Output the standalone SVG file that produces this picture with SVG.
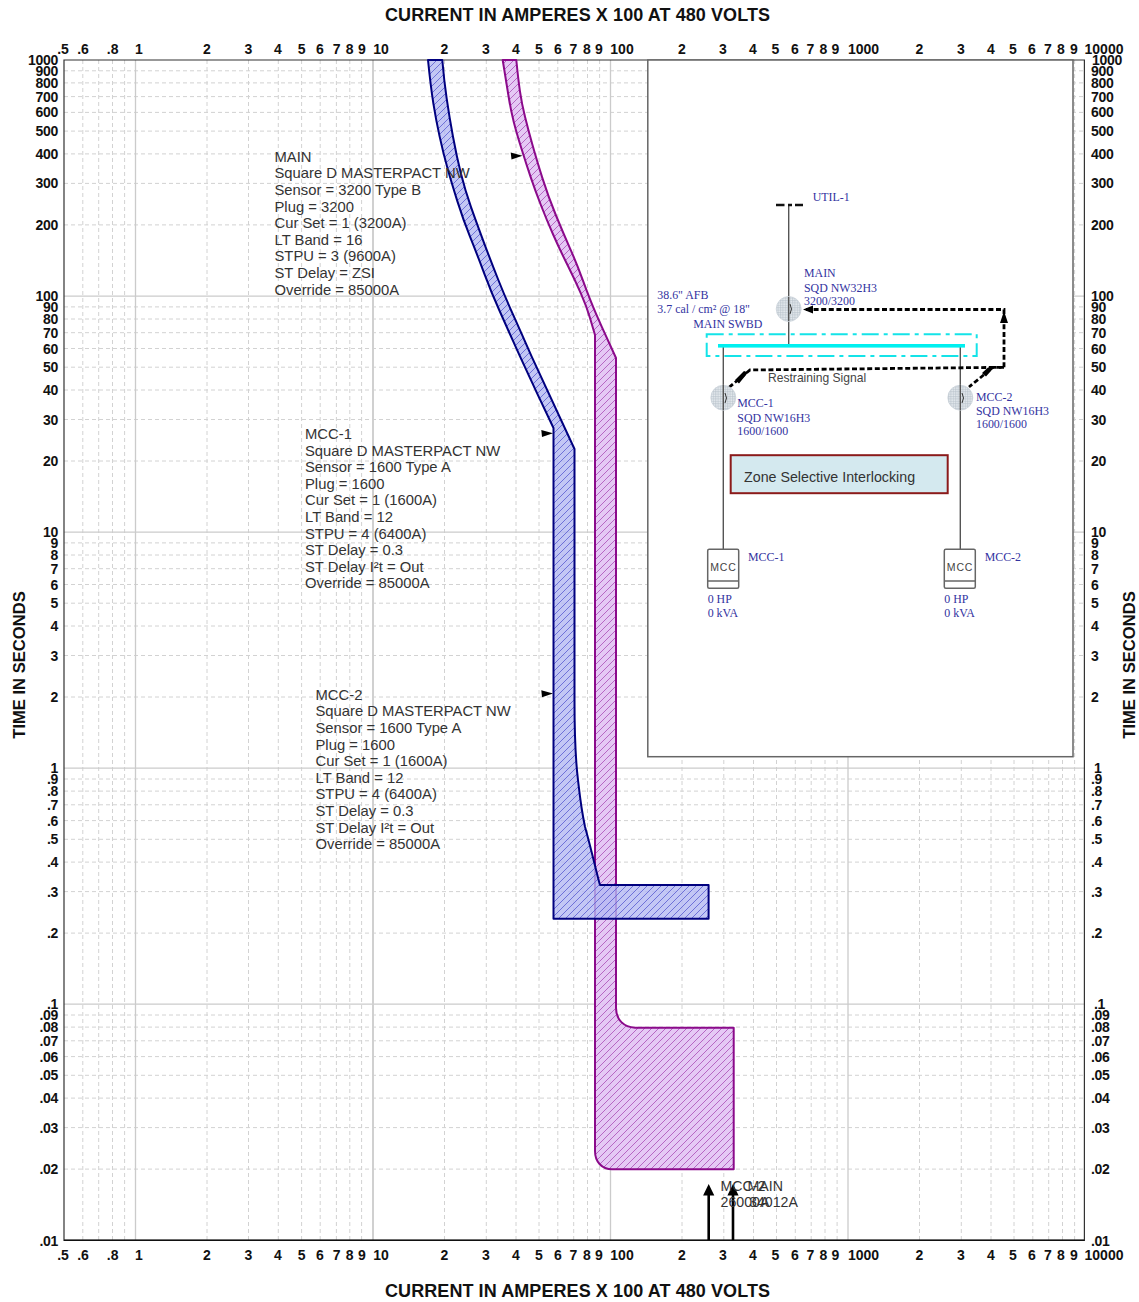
<svg xmlns="http://www.w3.org/2000/svg" width="1139" height="1302" viewBox="0 0 1139 1302">
<style>
.title{font:bold 18px "Liberation Sans",Arial,sans-serif;fill:#111}
.vt{font:bold 16.6px "Liberation Sans",Arial,sans-serif;fill:#111;text-anchor:middle}
.xl{font:bold 14px "Liberation Sans",Arial,sans-serif;fill:#111;text-anchor:middle}
.yl{font:bold 14px "Liberation Sans",Arial,sans-serif;fill:#111;text-anchor:end;letter-spacing:-.3px}
.yr{font:bold 14px "Liberation Sans",Arial,sans-serif;fill:#111;letter-spacing:-.3px}
.lbl{font:14.8px "Liberation Sans",Arial,sans-serif;fill:#333}
.tag{font:14.2px "Liberation Sans",Arial,sans-serif;fill:#333}
.ser{font:11.9px "Liberation Serif","Times New Roman",serif;fill:#33339f}
.minor{stroke:#d2d2d2;stroke-width:1;stroke-dasharray:4 3;fill:none}
.major{stroke:#cbcbcb;stroke-width:1.3;fill:none}
.wire{stroke:#555;stroke-width:1.4;fill:none}
.sig{stroke:#000;stroke-width:2.8;stroke-dasharray:5 2.6;fill:none}
.brk{fill:url(#dots);stroke:#c4cdd5;stroke-width:.6}
.load{fill:#fff;stroke:#666;stroke-width:1.5}
.mt{font:10.5px "Liberation Sans",Arial,sans-serif;fill:#444;text-anchor:middle;letter-spacing:.8px}
</style>
<defs>
<pattern id="hb" width="7" height="7" patternUnits="userSpaceOnUse">
<rect width="7" height="7" fill="#b4b9f2" fill-opacity=".8"/>
<path d="M-1,1L1,-1M0,7L7,0M6,8L8,6" stroke="#5f61d2" stroke-width=".85" fill="none"/>
</pattern>
<pattern id="hm" width="7" height="7" patternUnits="userSpaceOnUse">
<rect width="7" height="7" fill="#e3c5f5" fill-opacity=".92"/>
<path d="M-1,1L1,-1M0,7L7,0M6,8L8,6" stroke="#ae55ba" stroke-width=".85" fill="none"/>
</pattern>
<pattern id="dots" width="2.4" height="2.4" patternUnits="userSpaceOnUse">
<rect width="2.4" height="2.4" fill="#e6ebef"/>
<path d="M0,.6H2.4M.6,0V2.4" stroke="#b4bfc8" stroke-width=".6"/>
</pattern>
</defs>
<rect width="1139" height="1302" fill="#fff"/>

<g id="grid">
<path class="minor" d="M82.8,60V1240M98.7,60V1240M112.5,60V1240M124.6,60V1240M207,60V1240M248.5,60V1240M278.3,60V1240M301.6,60V1240M320.2,60V1240M336.4,60V1240M349.8,60V1240M361.6,60V1240M444.5,60V1240M486.3,60V1240M516,60V1240M539,60V1240M557.8,60V1240M573.7,60V1240M587.5,60V1240M599.6,60V1240M682,60V1240M723.8,60V1240M753.5,60V1240M776.5,60V1240M795.3,60V1240M811.2,60V1240M825,60V1240M837.1,60V1240M919.5,60V1240M961.3,60V1240M991,60V1240M1014,60V1240M1032.8,60V1240M1048.7,60V1240M1062.5,60V1240M1074.6,60V1240"/>
<path class="minor" d="M64,70.8H1084M64,82.9H1084M64,96.6H1084M64,112.4H1084M64,131.1H1084M64,153.9H1084M64,183.4H1084M64,224.9H1084M64,306.9H1084M64,319H1084M64,332.7H1084M64,348.5H1084M64,367.2H1084M64,390H1084M64,419.5H1084M64,461H1084M64,542.9H1084M64,555H1084M64,568.7H1084M64,584.5H1084M64,603.2H1084M64,626H1084M64,655.5H1084M64,697H1084M64,779H1084M64,791.1H1084M64,804.8H1084M64,820.6H1084M64,839.3H1084M64,862.1H1084M64,891.6H1084M64,933.1H1084M64,1015H1084M64,1027.1H1084M64,1040.8H1084M64,1056.6H1084M64,1075.3H1084M64,1098.1H1084M64,1127.6H1084M64,1169.1H1084"/>
<path class="major" d="M135.5,60V1240M610.5,60V1240M848,60V1240M64,296.1H1084M64,532.1H1084M64,768.2H1084M64,1004.2H1084"/>
<path d="M373,60V1240" stroke="#d0d0d0" stroke-width="2"/>
<path d="M64,1240.3V60H1084.4V1240.3Z" fill="none" stroke="#333" stroke-width="1.2"/>
<path d="M64,1240.3H1084.4" stroke="#111" stroke-width="1.4"/>
</g>

<g id="curve-main">
<path fill="url(#hm)" stroke="#8b0a8b" stroke-width="2" stroke-linejoin="round" d="M502.7,60Q506,80 508.35,95Q510.7,110 513.7,121.65Q516.7,133.3 521.35,148.3Q526,163.3 530.5,176.65Q535,190 540.85,205Q546.7,220 553.35,235Q560,250 567.5,265Q575,280 580.85,293.35Q586.7,306.7 590,318L595,335V1151C595,1162 602,1169.3 612,1169.3H733.7V1027.7H635C624,1027 616,1020 616,1008V358L601.7,326.7L595.85,313.35Q590,300 583.35,281.65Q576.7,263.3 570,248.3Q563.3,233.3 555.8,215Q548.3,196.7 542.5,178.35Q536.7,160 532.5,145Q528.3,130 525,116.65Q521.7,103.3 520,91.65Q518.3,80 516.3,60Z"/>
</g>
<g id="curve-mcc">
<path fill="url(#hb)" stroke="#00007f" stroke-width="2" stroke-linejoin="round" d="M428,60Q430.7,86.7 433.35,103.35Q436,120 439.65,136.65Q443.3,153.3 447.5,168.3Q451.7,183.3 457.5,201.65Q463.3,220 470,236.65Q476.7,253.3 484.2,273.3Q491.7,293.3 499.2,310Q506.7,326.7 513.35,341.7Q520,356.7 536.65,392.35L553.5,428V918.7H708.6V885H600C597,875 593.3,857 585,826.7C581,808 579.5,793 578,780C575.5,760 574.5,730 574.5,700V449L531.7,356.7L525.85,343.35Q520,330 512.5,313.35Q505,296.7 498.35,280Q491.7,263.3 484.2,243.3Q476.7,223.3 470.85,206.65Q465,190 460.85,173.35Q456.7,156.7 453,136.7Q449.3,116.7 446.65,98.35Q444,80 442.3,60Z"/>
</g>

<g id="curve-labels">
<text class="lbl" x="274.5" y="161.7">MAIN</text>
<text class="lbl" x="274.5" y="178.3">Square D MASTERPACT NW</text>
<text class="lbl" x="274.5" y="194.9">Sensor = 3200 Type B</text>
<text class="lbl" x="274.5" y="211.5">Plug = 3200</text>
<text class="lbl" x="274.5" y="228.1">Cur Set = 1 (3200A)</text>
<text class="lbl" x="274.5" y="244.7">LT Band = 16</text>
<text class="lbl" x="274.5" y="261.3">STPU = 3 (9600A)</text>
<text class="lbl" x="274.5" y="277.9">ST Delay = ZSI</text>
<text class="lbl" x="274.5" y="294.5">Override = 85000A</text>
<text class="lbl" x="305" y="439">MCC-1</text>
<text class="lbl" x="305" y="455.6">Square D MASTERPACT NW</text>
<text class="lbl" x="305" y="472.2">Sensor = 1600 Type A</text>
<text class="lbl" x="305" y="488.8">Plug = 1600</text>
<text class="lbl" x="305" y="505.4">Cur Set = 1 (1600A)</text>
<text class="lbl" x="305" y="522">LT Band = 12</text>
<text class="lbl" x="305" y="538.6">STPU = 4 (6400A)</text>
<text class="lbl" x="305" y="555.2">ST Delay = 0.3</text>
<text class="lbl" x="305" y="571.8">ST Delay I²t = Out</text>
<text class="lbl" x="305" y="588.4">Override = 85000A</text>
<text class="lbl" x="315.5" y="699.7">MCC-2</text>
<text class="lbl" x="315.5" y="716.3">Square D MASTERPACT NW</text>
<text class="lbl" x="315.5" y="732.9">Sensor = 1600 Type A</text>
<text class="lbl" x="315.5" y="749.5">Plug = 1600</text>
<text class="lbl" x="315.5" y="766.1">Cur Set = 1 (1600A)</text>
<text class="lbl" x="315.5" y="782.7">LT Band = 12</text>
<text class="lbl" x="315.5" y="799.3">STPU = 4 (6400A)</text>
<text class="lbl" x="315.5" y="815.9">ST Delay = 0.3</text>
<text class="lbl" x="315.5" y="832.5">ST Delay I²t = Out</text>
<text class="lbl" x="315.5" y="849.1">Override = 85000A</text>
<path fill="#000" d="M510.7,152.5L522.5,155.8L511.5,159.5ZM541.3,430L553,433.3L542,437ZM541.3,690.3L553,693.6L542,697.3Z"/>
</g>

<g id="fault-markers">
<path stroke="#000" stroke-width="2.6" d="M708.7,1194V1240M733,1194V1240"/>
<path fill="#000" d="M708.7,1184L714.3,1195.5H703.1ZM733,1184L738.6,1195.5H727.4Z"/>
<text class="tag" x="720.5" y="1190.7">MCC-2</text>
<text class="tag" x="720.5" y="1206.7">26000A</text>
<text class="tag" x="747.5" y="1190.7">MAIN</text>
<text class="tag" x="749" y="1206.7">34012A</text>
</g>

<rect id="inset" x="647.8" y="60" width="425.2" height="696.7" fill="#fff" stroke="#666" stroke-width="1.5"/>

<g id="connectors">
<path class="wire" d="M788.7,205V345M723.3,346V549.3M960.3,346V549.3"/>
<path class="sig" d="M806,309.5H1004V367.3L750,370L727,389"/>
<path class="sig" d="M1004,367.3H993L969,387"/>
<path fill="#000" d="M803,309.5L813,305.5V313.5ZM1004,311L1000,323H1008ZM748,372.5L739,383.5L735,380L744,371ZM994,367.5L986,376.5L982,373L988,367.5Z"/>
</g>

<g id="util-1">
<path stroke="#111" stroke-width="2.6" fill="none" d="M776,205H784.5M788,205H792M795,205H803"/>
<text class="ser" x="812.7" y="200.7">UTIL-1</text>
</g>
<g id="swbd">
<rect x="706.7" y="334.3" width="270" height="21.7" fill="none" stroke="#14e3e8" stroke-width="2" stroke-dasharray="17 5 4 5"/>
<rect x="718" y="344" width="247" height="3.6" fill="#00f0f0"/>
<text class="ser" x="657.3" y="299.3">38.6" AFB</text>
<text class="ser" x="657.3" y="313.3">3.7 cal / cm² @ 18"</text>
<text class="ser" x="693.3" y="328.3">MAIN SWBD</text>
</g>
<g id="brk-main">
<circle class="brk" cx="788.7" cy="309" r="12.5"/>
<path class="wire" d="M788.7,297V321"/>
<path d="M790,304Q793,309 790,314" stroke="#333" fill="none"/>
<text class="ser" x="804" y="277.3">MAIN</text>
<text class="ser" x="804" y="291.7">SQD NW32H3</text>
<text class="ser" x="804" y="305.3">3200/3200</text>
</g>
<g id="brk-mcc-1">
<circle class="brk" cx="723.3" cy="397.7" r="12.5"/>
<path class="wire" d="M723.3,385V410"/>
<path d="M725,393Q728,398 725,403" stroke="#333" fill="none"/>
<text class="ser" x="737.3" y="407.3">MCC-1</text>
<text class="ser" x="737.3" y="421.5">SQD NW16H3</text>
<text class="ser" x="737.3" y="435">1600/1600</text>
</g>
<g id="brk-mcc-2">
<circle class="brk" cx="960.3" cy="397.7" r="12.5"/>
<path class="wire" d="M960.3,385V410"/>
<path d="M962,393Q965,398 962,403" stroke="#333" fill="none"/>
<text class="ser" x="976" y="400.5">MCC-2</text>
<text class="ser" x="976" y="414.8">SQD NW16H3</text>
<text class="ser" x="976" y="428.3">1600/1600</text>
</g>
<text id="signal-label" x="768" y="382.3" font-family="'Liberation Sans',Arial,sans-serif" font-size="12.1" fill="#444">Restraining Signal</text>
<g id="zone-note">
<rect x="730.7" y="455.2" width="217" height="38" fill="#d4e9ef" stroke="#8b1a1a" stroke-width="2"/>
<text x="744" y="481.7" font-family="'Liberation Sans',Arial,sans-serif" font-size="14.25" fill="#333">Zone Selective Interlocking</text>
</g>
<g id="load-mcc-1">
<rect class="load" x="707.7" y="549.3" width="31" height="39" rx="1.5"/>
<path class="load" d="M707.7,581H738.7"/>
<text class="mt" x="723.4" y="571">MCC</text>
<text class="ser" x="748" y="560.7">MCC-1</text>
<text class="ser" x="707.7" y="602.7">0 HP</text>
<text class="ser" x="707.7" y="616.7">0 kVA</text>
</g>
<g id="load-mcc-2">
<rect class="load" x="944.3" y="549.3" width="31" height="39" rx="1.5"/>
<path class="load" d="M944.3,581H975.3"/>
<text class="mt" x="960" y="571">MCC</text>
<text class="ser" x="984.7" y="560.7">MCC-2</text>
<text class="ser" x="944.3" y="602.7">0 HP</text>
<text class="ser" x="944.3" y="616.7">0 kVA</text>
</g>

<g id="axis-titles">
<text class="title" x="385" y="21" textLength="385">CURRENT IN AMPERES X 100 AT 480 VOLTS</text>
<text class="title" x="385" y="1297" textLength="385">CURRENT IN AMPERES X 100 AT 480 VOLTS</text>
<text class="vt" transform="translate(24.5,665) rotate(-90)">TIME IN SECONDS</text>
<text class="vt" transform="translate(1135,665) rotate(-90)">TIME IN SECONDS</text>
</g>
<g id="x-top">
<text class="xl" x="63" y="54">.5</text><text class="xl" x="83" y="54">.6</text><text class="xl" x="112.7" y="54">.8</text><text class="xl" x="139" y="54">1</text><text class="xl" x="207" y="54">2</text><text class="xl" x="248.5" y="54">3</text><text class="xl" x="278" y="54">4</text><text class="xl" x="301.7" y="54">5</text><text class="xl" x="320" y="54">6</text><text class="xl" x="336.7" y="54">7</text><text class="xl" x="349.7" y="54">8</text><text class="xl" x="362" y="54">9</text><text class="xl" x="381" y="54">10</text><text class="xl" x="444.5" y="54">2</text><text class="xl" x="486" y="54">3</text><text class="xl" x="516" y="54">4</text><text class="xl" x="539" y="54">5</text><text class="xl" x="558" y="54">6</text><text class="xl" x="573.5" y="54">7</text><text class="xl" x="587" y="54">8</text><text class="xl" x="599" y="54">9</text><text class="xl" x="622" y="54">100</text><text class="xl" x="682" y="54">2</text><text class="xl" x="723" y="54">3</text><text class="xl" x="753" y="54">4</text><text class="xl" x="775.5" y="54">5</text><text class="xl" x="795" y="54">6</text><text class="xl" x="810.5" y="54">7</text><text class="xl" x="823.5" y="54">8</text><text class="xl" x="835.5" y="54">9</text><text class="xl" x="863.5" y="54">1000</text><text class="xl" x="919.5" y="54">2</text><text class="xl" x="961" y="54">3</text><text class="xl" x="991" y="54">4</text><text class="xl" x="1013" y="54">5</text><text class="xl" x="1032" y="54">6</text><text class="xl" x="1048" y="54">7</text><text class="xl" x="1061" y="54">8</text><text class="xl" x="1074" y="54">9</text><text class="xl" x="1104" y="54">10000</text>
</g>
<g id="x-bottom">
<text class="xl" x="63" y="1260">.5</text><text class="xl" x="83" y="1260">.6</text><text class="xl" x="112.7" y="1260">.8</text><text class="xl" x="139" y="1260">1</text><text class="xl" x="207" y="1260">2</text><text class="xl" x="248.5" y="1260">3</text><text class="xl" x="278" y="1260">4</text><text class="xl" x="301.7" y="1260">5</text><text class="xl" x="320" y="1260">6</text><text class="xl" x="336.7" y="1260">7</text><text class="xl" x="349.7" y="1260">8</text><text class="xl" x="362" y="1260">9</text><text class="xl" x="381" y="1260">10</text><text class="xl" x="444.5" y="1260">2</text><text class="xl" x="486" y="1260">3</text><text class="xl" x="516" y="1260">4</text><text class="xl" x="539" y="1260">5</text><text class="xl" x="558" y="1260">6</text><text class="xl" x="573.5" y="1260">7</text><text class="xl" x="587" y="1260">8</text><text class="xl" x="599" y="1260">9</text><text class="xl" x="622" y="1260">100</text><text class="xl" x="682" y="1260">2</text><text class="xl" x="723" y="1260">3</text><text class="xl" x="753" y="1260">4</text><text class="xl" x="775.5" y="1260">5</text><text class="xl" x="795" y="1260">6</text><text class="xl" x="810.5" y="1260">7</text><text class="xl" x="823.5" y="1260">8</text><text class="xl" x="835.5" y="1260">9</text><text class="xl" x="863.5" y="1260">1000</text><text class="xl" x="919.5" y="1260">2</text><text class="xl" x="961" y="1260">3</text><text class="xl" x="991" y="1260">4</text><text class="xl" x="1013" y="1260">5</text><text class="xl" x="1032" y="1260">6</text><text class="xl" x="1048" y="1260">7</text><text class="xl" x="1061" y="1260">8</text><text class="xl" x="1074" y="1260">9</text><text class="xl" x="1104" y="1260">10000</text>
</g>
<g id="y-left">
<text class="yl" x="58" y="65">1000</text><text class="yl" x="58" y="76">900</text><text class="yl" x="58" y="88">800</text><text class="yl" x="58" y="101.6">700</text><text class="yl" x="58" y="117.4">600</text><text class="yl" x="58" y="136">500</text><text class="yl" x="58" y="159">400</text><text class="yl" x="58" y="188.4">300</text><text class="yl" x="58" y="230">200</text><text class="yl" x="58" y="301">100</text><text class="yl" x="58" y="312">90</text><text class="yl" x="58" y="324">80</text><text class="yl" x="58" y="337.7">70</text><text class="yl" x="58" y="353.5">60</text><text class="yl" x="58" y="372.2">50</text><text class="yl" x="58" y="395">40</text><text class="yl" x="58" y="424.5">30</text><text class="yl" x="58" y="466">20</text><text class="yl" x="58" y="537">10</text><text class="yl" x="58" y="548">9</text><text class="yl" x="58" y="560">8</text><text class="yl" x="58" y="573.7">7</text><text class="yl" x="58" y="589.5">6</text><text class="yl" x="58" y="608.2">5</text><text class="yl" x="58" y="631">4</text><text class="yl" x="58" y="660.5">3</text><text class="yl" x="58" y="702">2</text><text class="yl" x="58" y="773">1</text><text class="yl" x="58" y="784">.9</text><text class="yl" x="58" y="796">.8</text><text class="yl" x="58" y="809.8">.7</text><text class="yl" x="58" y="825.6">.6</text><text class="yl" x="58" y="844.3">.5</text><text class="yl" x="58" y="867">.4</text><text class="yl" x="58" y="896.6">.3</text><text class="yl" x="58" y="938">.2</text><text class="yl" x="58" y="1009">.1</text><text class="yl" x="58" y="1020">.09</text><text class="yl" x="58" y="1032">.08</text><text class="yl" x="58" y="1045.8">.07</text><text class="yl" x="58" y="1061.6">.06</text><text class="yl" x="58" y="1080.3">.05</text><text class="yl" x="58" y="1103">.04</text><text class="yl" x="58" y="1132.6">.03</text><text class="yl" x="58" y="1174">.02</text><text class="yl" x="58" y="1246">.01</text>
</g>
<g id="y-right">
<text class="yr" x="1092" y="65">1000</text><text class="yr" x="1091" y="76">900</text><text class="yr" x="1091" y="88">800</text><text class="yr" x="1091" y="101.6">700</text><text class="yr" x="1091" y="117.4">600</text><text class="yr" x="1091" y="136">500</text><text class="yr" x="1091" y="159">400</text><text class="yr" x="1091" y="188.4">300</text><text class="yr" x="1091" y="230">200</text><text class="yr" x="1091" y="301">100</text><text class="yr" x="1091" y="312">90</text><text class="yr" x="1091" y="324">80</text><text class="yr" x="1091" y="337.7">70</text><text class="yr" x="1091" y="353.5">60</text><text class="yr" x="1091" y="372.2">50</text><text class="yr" x="1091" y="395">40</text><text class="yr" x="1091" y="424.5">30</text><text class="yr" x="1091" y="466">20</text><text class="yr" x="1091" y="537">10</text><text class="yr" x="1091" y="548">9</text><text class="yr" x="1091" y="560">8</text><text class="yr" x="1091" y="573.7">7</text><text class="yr" x="1091" y="589.5">6</text><text class="yr" x="1091" y="608.2">5</text><text class="yr" x="1091" y="631">4</text><text class="yr" x="1091" y="660.5">3</text><text class="yr" x="1091" y="702">2</text><text class="yr" x="1094" y="773">1</text><text class="yr" x="1091" y="784">.9</text><text class="yr" x="1091" y="796">.8</text><text class="yr" x="1091" y="809.8">.7</text><text class="yr" x="1091" y="825.6">.6</text><text class="yr" x="1091" y="844.3">.5</text><text class="yr" x="1091" y="867">.4</text><text class="yr" x="1091" y="896.6">.3</text><text class="yr" x="1091" y="938">.2</text><text class="yr" x="1094" y="1009">.1</text><text class="yr" x="1091" y="1020">.09</text><text class="yr" x="1091" y="1032">.08</text><text class="yr" x="1091" y="1045.8">.07</text><text class="yr" x="1091" y="1061.6">.06</text><text class="yr" x="1091" y="1080.3">.05</text><text class="yr" x="1091" y="1103">.04</text><text class="yr" x="1091" y="1132.6">.03</text><text class="yr" x="1091" y="1174">.02</text><text class="yr" x="1091" y="1246">.01</text>
</g>
</svg>
